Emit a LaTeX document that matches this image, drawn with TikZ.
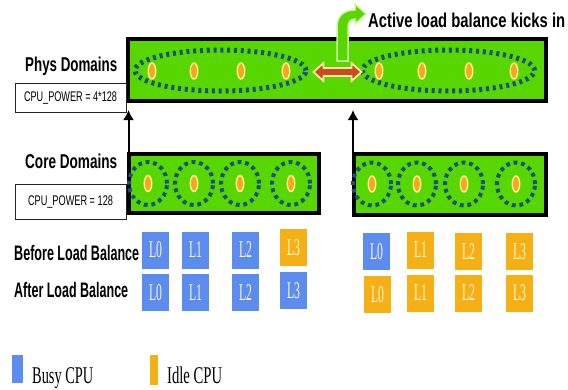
\documentclass[tikz,border=0pt]{standalone}
\usepackage{fontspec}
\usepackage{graphicx}
\setmainfont{Liberation Serif}
\setsansfont{Liberation Sans}
\usetikzlibrary{shapes.geometric,arrows.meta}
\definecolor{domgreen}{RGB}{88,214,0}
\definecolor{dotblue}{RGB}{22,82,130}
\definecolor{cpuorange}{RGB}{245,168,30}
\definecolor{ringyellow}{RGB}{250,238,140}
\definecolor{busyblue}{RGB}{92,140,238}
\definecolor{idleorange}{RGB}{245,176,22}
\definecolor{labelcream}{RGB}{255,246,214}
\definecolor{balbrown}{RGB}{198,78,28}
\definecolor{balrim}{RGB}{250,228,170}
\definecolor{kickrim}{RGB}{205,245,165}
\newcommand\fitw[2]{\resizebox{#1}{\height}{#2}}
\newcommand\cpulbl[1]{\fitw{13pt}{#1}}
\begin{document}
\begin{tikzpicture}[x=1pt,y=-1pt,
  dombox/.style={rectangle,draw=black,line width=4pt,fill=domgreen,inner sep=0},
  powerbox/.style={rectangle,draw=black!85,line width=0.9pt,fill=white,inner sep=0,minimum width=111pt,font=\sffamily\fontsize{14}{14}\selectfont},
  biglabel/.style={inner sep=0,anchor=base west,font=\sffamily\bfseries\fontsize{20}{20}\selectfont},
  bigdots/.style={ellipse,draw=dotblue,line width=5pt,dash pattern=on 3pt off 3.8pt,inner sep=0},
  smalldots/.style={ellipse,draw=dotblue,line width=4pt,dash pattern=on 3.8pt off 3.8pt,inner sep=0,minimum width=38pt,minimum height=43pt},
  cpudot/.style={ellipse,fill=cpuorange,draw=ringyellow,line width=1.5pt,minimum width=7.5pt,minimum height=16pt,inner sep=0},
  cpu/.style={rectangle,minimum width=27pt,minimum height=37pt,inner sep=0,text=labelcream,font=\rmfamily\fontsize{24}{24}\selectfont},
  busy/.style={cpu,fill=busyblue},
  idle/.style={cpu,fill=idleorange},
  upconn/.style={draw=black,line width=2pt,-{Latex[length=10pt,width=11pt]},shorten >=7pt},
  legtext/.style={inner sep=0,anchor=base west,font=\rmfamily\fontsize{24}{24}\selectfont}
]
\useasboundingbox (0,0) rectangle (568,389);

% Phys domain
\node[dombox,minimum width=418pt,minimum height=62pt] (phys) at (337,70) {};
\node[bigdots,minimum width=171pt,minimum height=41pt] (ellL) at (220.5,70.5) {};
\node[bigdots,minimum width=172pt,minimum height=41pt] (ellR) at (448.5,70.5) {};
\foreach \x/\n in {152/a,194/b,241/c,286/d,379/e,422/f,469/g,514/h}
  \node[cpudot] (pd\n) at (\x,71) {};

% balance double arrow
\coordinate (bal) at (337.5,72);
\draw[fill=balbrown,draw=balrim,line width=1.8pt,line join=miter]
  ([xshift=-24pt]bal) -- ++(10,-9) -- ++(0,5) -- ++(28,0) -- ++(0,-5) -- ++(10,9)
  -- ++(-10,9) -- ++(0,-5) -- ++(-28,0) -- ++(0,5) -- cycle;

% green kick arrow
\draw[fill=domgreen,draw=kickrim,line width=1.5pt]
  (337,61) -- (337,27) .. controls (337,16) and (344,10) .. (355,10) -- (355,4)
  -- (366,14) -- (355,24) -- (355,19) .. controls (351,19) and (348,22) .. (348,27)
  -- (348,61) -- cycle;
\node[biglabel] (kick) at (368,27) {\fitw{197pt}{Active load balance kicks in}};

% Core domains
\node[dombox,minimum width=190pt,minimum height=59pt] (coreL) at (224,183.5) {};
\node[dombox,minimum width=192pt,minimum height=61pt] (coreR) at (450,184.5) {};
\foreach \x/\n in {148/a,194/b,240/c,291/d}{
  \node[smalldots] (ce\n) at (\x,183.5) {};
  \node[cpudot] (cd\n) at (\x,183.5) {};}
\foreach \x/\n in {372/e,417/f,464/g,516/h}{
  \node[smalldots] (ce\n) at (\x,184) {};
  \node[cpudot] (cd\n) at (\x,184) {};}

% connectors up
\draw[upconn] (coreL.north west) ++(1.5,0) coordinate (cLtop) -- (cLtop |- phys.south);
\draw[upconn] (coreR.north west) ++(1,0) coordinate (cRtop) -- (cRtop |- phys.south);

% labels
\node[biglabel] (physlbl) at (25,71) {\fitw{92pt}{Phys Domains}};
\node[powerbox,minimum height=29pt] (pow1) at (70.5,97.5) {\fitw{93pt}{CPU\_POWER = 4*128}};
\node[biglabel] (corelbl) at (25,168) {\fitw{92pt}{Core Domains}};
\node[powerbox,minimum height=35pt] (pow2) at (70.5,201.5) {\fitw{85pt}{CPU\_POWER = 128}};
\node[biglabel,font=\sffamily\bfseries\fontsize{21}{21}\selectfont] (before) at (14,260) {\fitw{125pt}{Before Load Balance}};
\node[biglabel,font=\sffamily\bfseries\fontsize{21}{21}\selectfont] (after) at (14,297) {\fitw{114pt}{After Load Balance}};

% CPU squares
\node[busy] (b0) at (155.5,250) {\cpulbl{L0}};
\node[busy] (b1) at (195.5,250) {\cpulbl{L1}};
\node[busy] (b2) at (245.5,250) {\cpulbl{L2}};
\node[idle] (b3) at (293.5,247.5) {\cpulbl{L3}};
\node[busy] (a0) at (155.5,292.5) {\cpulbl{L0}};
\node[busy] (a1) at (195.5,292.5) {\cpulbl{L1}};
\node[busy] (a2) at (245.5,292.5) {\cpulbl{L2}};
\node[busy] (a3) at (293.5,290.5) {\cpulbl{L3}};
\node[busy] (rb0) at (376.5,251.5) {\cpulbl{L0}};
\node[idle] (rb1) at (420.5,250) {\cpulbl{L1}};
\node[idle] (rb2) at (468.5,251.5) {\cpulbl{L2}};
\node[idle] (rb3) at (519.5,251.5) {\cpulbl{L3}};
\node[idle] (ra0) at (377.5,294.5) {\cpulbl{L0}};
\node[idle] (ra1) at (420.5,293) {\cpulbl{L1}};
\node[idle] (ra2) at (468.5,293) {\cpulbl{L2}};
\node[idle] (ra3) at (519.5,293) {\cpulbl{L3}};

% legend
\node[rectangle,fill=busyblue,minimum width=11pt,minimum height=28pt,inner sep=0] (legbusy) at (17.5,369) {};
\node[legtext] (busytxt) at (32,383) {\fitw{61pt}{Busy CPU}};
\node[rectangle,fill=idleorange,minimum width=8pt,minimum height=30pt,inner sep=0] (legidle) at (154,370) {};
\node[legtext] (idletxt) at (167,383) {\fitw{55pt}{Idle CPU}};
\end{tikzpicture}
\end{document}
